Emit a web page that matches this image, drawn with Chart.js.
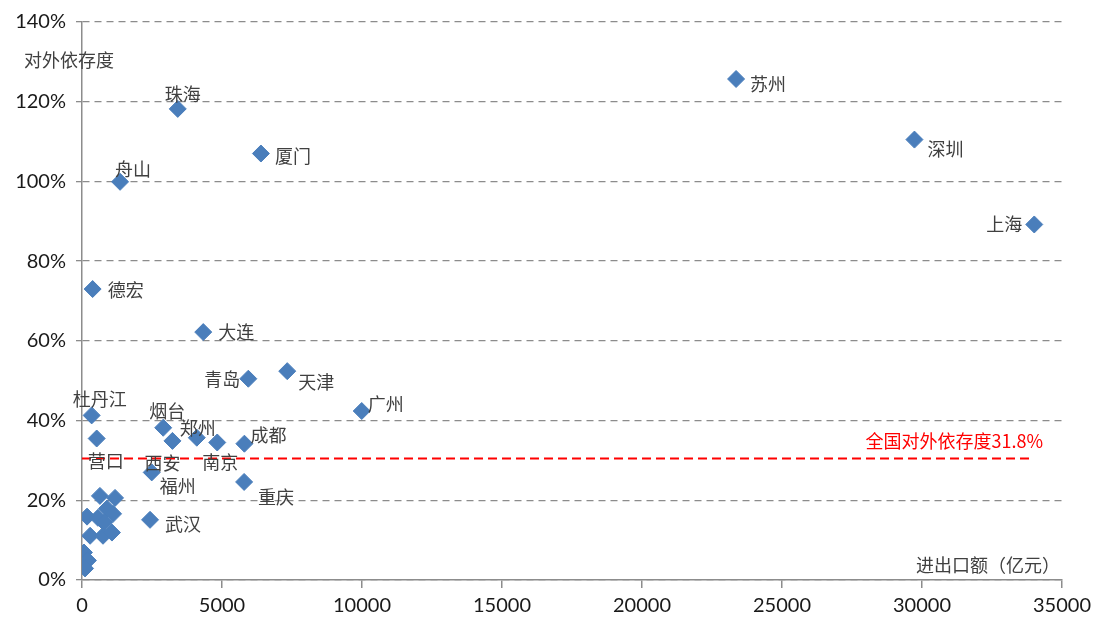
<!DOCTYPE html>
<html>
<head>
<meta charset="utf-8">
<script src="https://cdn.jsdelivr.net/npm/chart.js@4"></script>
<style>
  html, body { margin: 0; padding: 0; background: #ffffff; }
  #wrap { width: 1098px; height: 622px; position: relative; }
</style>
</head>
<body>
<div id="wrap"><canvas id="scatter"></canvas></div>
<script>
// city names ('' = unlabeled point), trade volume (亿元), external dependence (%)
const cities = [
  "苏州", "深圳", "上海", "珠海", "厦门", "舟山", "德宏", "大连", "青岛", "天津",
  "广州", "杜丹江", "烟台", "西安", "郑州", "南京", "成都", "营口", "福州", "重庆",
  "武汉", "", "", "", "", "", "", "", "", "", "", "", "", ""
];
const tradeValues = [
  23360, 29730, 34010, 3420, 6390, 1360, 380, 4330, 5940, 7330,
  9990, 345, 2900, 3230, 4100, 4830, 5800, 525, 2490, 5790,
  2430, 640, 1180, 180, 570, 890, 1110, 790, 290, 750, 1070, 70, 210, 110
];
const dependence = [
  125.7, 110.5, 89.2, 118.2, 107.0, 99.9, 73.0, 62.2, 50.5, 52.4,
  42.4, 41.3, 38.2, 34.9, 35.7, 34.5, 34.2, 35.5, 27.0, 24.6,
  15.1, 21.1, 20.6, 15.9, 15.6, 17.9, 16.6, 14.4, 11.1, 11.1, 11.9, 6.9, 4.9, 2.9
];

// national reference line
const nationalX = [0, 34000];
const nationalLevel = 30.5;
const nationalText = "全国对外依存度31.8%";

const xTicks = [0, 5000, 10000, 15000, 20000, 25000, 30000, 35000];
const yTicks = [0, 20, 40, 60, 80, 100, 120, 140];

// where each city's text sits relative to its marker: [align, dx, dy]
const labelPlace = {
  "苏州": ["left", 14, 5],
  "深圳": ["left", 13, 10],
  "上海": ["right", -12, 0],
  "珠海": ["center", 5, -15],
  "厦门": ["left", 14, 3],
  "舟山": ["center", 13, -13],
  "德宏": ["left", 15, 1],
  "大连": ["left", 15, 0],
  "青岛": ["right", -8, 0],
  "天津": ["left", 11, 11],
  "广州": ["left", 6, -7],
  "杜丹江": ["center", 8, -16],
  "烟台": ["center", 4, -17],
  "西安": ["center", -10, 22],
  "郑州": ["center", 1, -10],
  "南京": ["center", 3, 20],
  "成都": ["left", 6, -9],
  "营口": ["center", 9, 23],
  "福州": ["center", 26, 14],
  "重庆": ["left", 14, 15],
  "武汉": ["left", 15, 4]
};

const points = tradeValues.map((v, i) => ({ x: v, y: dependence[i] }));
const nationalLine = nationalX.map((v) => ({ x: v, y: nationalLevel }));

const textPlugin = {
  id: "textPlugin",
  afterDatasetsDraw(chart) {
    const { ctx, chartArea, scales } = chart;
    const meta = chart.getDatasetMeta(1);
    ctx.save();
    ctx.textBaseline = "middle";

    ctx.font = '18px "Noto Sans CJK SC", sans-serif';
    ctx.fillStyle = "#404040";
    meta.data.forEach((pt, i) => {
      const name = cities[i];
      if (!name) return;
      const p = labelPlace[name] || ["left", 12, 0];
      ctx.textAlign = p[0];
      ctx.fillText(name, pt.x + p[1], pt.y + p[2]);
    });

    // axis titles
    ctx.fillStyle = "#404040";
    ctx.textAlign = "left";
    ctx.fillText("对外依存度", chartArea.left - 58, chartArea.top + 38);
    ctx.textAlign = "right";
    ctx.fillText("进出口额（亿元）", chartArea.right - 2, chartArea.bottom - 15);

    // national label
    ctx.fillStyle = "#ff0000";
    ctx.textAlign = "right";
    ctx.fillText(nationalText,
      scales.x.getPixelForValue(nationalX[1]) + 9,
      scales.y.getPixelForValue(nationalLevel) - 17);
    ctx.restore();
  }
};

new Chart(document.getElementById("scatter"), {
  type: "scatter",
  data: {
    datasets: [
      {
        type: "line",
        data: nationalLine,
        borderColor: "#ff0000",
        borderWidth: 2,
        borderDash: [9, 5],
        pointRadius: 0,
        fill: false,
        order: 2
      },
      {
        data: points,
        pointStyle: "rectRot",
        pointRadius: 8.5,
        pointHoverRadius: 8.5,
        backgroundColor: "#4a7ebb",
        borderColor: "#4a7ebb",
        borderWidth: 1,
        order: 1
      }
    ]
  },
  options: {
    responsive: true,
    maintainAspectRatio: false,
    animation: false,
    layout: { padding: { top: 20, right: 36, left: 0, bottom: 0 } },
    plugins: {
      legend: { display: false },
      tooltip: { enabled: false }
    },
    scales: {
      x: {
        type: "linear",
        min: 0,
        max: 35000,
        afterFit(scale) { scale.height = 42; },
        afterBuildTicks(scale) { scale.ticks = xTicks.map((v) => ({ value: v })); },
        ticks: {
          color: "#1a1a1a",
          padding: 6,
          font: { family: "Lato", size: 20 },
          callback: (v) => String(v)
        },
        grid: {
          drawOnChartArea: false,
          drawTicks: true,
          tickLength: 8,
          color: "#8c8c8c",
          lineWidth: 1.5
        },
        border: { display: true, color: "#8c8c8c", width: 1.5 }
      },
      y: {
        type: "linear",
        min: 0,
        max: 140,
        afterFit(scale) { scale.width = 82; },
        afterBuildTicks(scale) { scale.ticks = yTicks.map((v) => ({ value: v })); },
        ticks: {
          color: "#1a1a1a",
          padding: 10,
          font: { family: "Lato", size: 20 },
          callback: (v) => v + "%"
        },
        grid: {
          drawOnChartArea: true,
          drawTicks: true,
          tickLength: 6,
          color: "#8c8c8c",
          lineWidth: 1.3,
          tickColor: "#8c8c8c"
        },
        border: { display: true, color: "#8c8c8c", width: 1.5, dash: [7, 5] }
      }
    }
  },
  plugins: [textPlugin]
});
</script>
</body>
</html>
